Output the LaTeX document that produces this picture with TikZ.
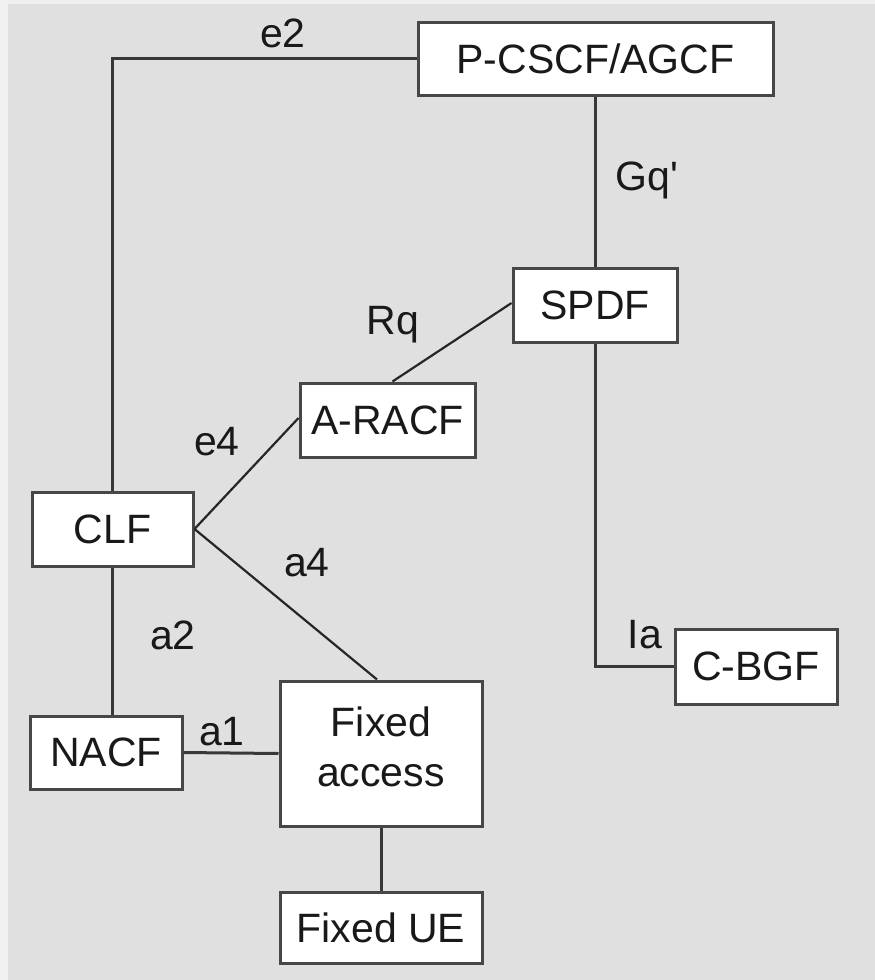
\documentclass[tikz,border=0pt]{standalone}
\usepackage{fontspec}
\setmainfont{Liberation Sans}[Ligatures=TeXOff]
\begin{document}
\begin{tikzpicture}[x=1pt,y=-1pt,
  every node/.style={font=\fontsize{41}{50}\selectfont, text=black!90},
  box/.style={draw=black!72, line width=3pt, fill=white, inner sep=0pt, align=center},
  conn/.style={draw=black!78, line width=3pt},
  diag/.style={draw=black!85, line width=2.2pt},
  lbl/.style={inner sep=0pt}]
% background
\fill[black!6] (0,0) rectangle (875,980);
\fill[black!12] (8,4) rectangle (875,980);
\useasboundingbox (0,0) rectangle (875,980);
% nodes
\node[box, minimum width=355pt, minimum height=73pt] (pcscf) at (595.5,58.5) {P-CSCF/AGCF};
\node[box, minimum width=164pt, minimum height=74pt] (spdf) at (595,305) {SPDF};
\node[box, minimum width=175pt, minimum height=74pt] (aracf) at (387.5,420) {A-RACF};
\node[box, minimum width=161pt, minimum height=74pt] (clf) at (112.5,529) {CLF};
\node[box, minimum width=162pt, minimum height=75pt] (cbgf) at (756,666.5) {C-BGF};
\node[box, minimum width=152pt, minimum height=73pt] (nacf) at (106,752.5) {NACF};
\node[box, minimum width=202pt, minimum height=145pt] (facc) at (381,753.5) {};
\node[inner sep=0pt, align=center] (facctext) at (381,747) {Fixed\\access};
\node[box, minimum width=202pt, minimum height=71pt] (fue) at (381,927.5) {Fixed UE};
% connectors
\draw[conn] (clf.north) |- (pcscf.west);
\draw[conn] (pcscf.south) -- (pcscf.south |- spdf.north);
\draw[diag] ([yshift=2pt]spdf.west) -- ([xshift=5pt]aracf.north);
\draw[diag] (clf.east) -- ([yshift=2pt]aracf.west);
\draw[diag] (clf.east) -- ([xshift=-4pt]facc.north);
\draw[conn] (spdf.south) |- (cbgf.west);
\draw[conn] (clf.south) -- (clf.south |- nacf.north);
\draw[conn] (nacf.east) -- (facc.west);
\draw[conn] (facc.south) -- (fue.north);
% labels
\node[lbl] (le2) at (283,33) {e2};
\node[lbl] (lgq) at (647,180) {Gq'};
\node[lbl] (lrq) at (393,325) {Rq};
\node[lbl] (le4) at (217,442) {e4};
\node[lbl] (la4) at (307,563) {a4};
\node[lbl] (lia) at (645,635) {Ia};
\node[lbl] (la2) at (173,635) {a2};
\node[lbl] (la1) at (222,732) {a1};
\end{tikzpicture}
\end{document}
